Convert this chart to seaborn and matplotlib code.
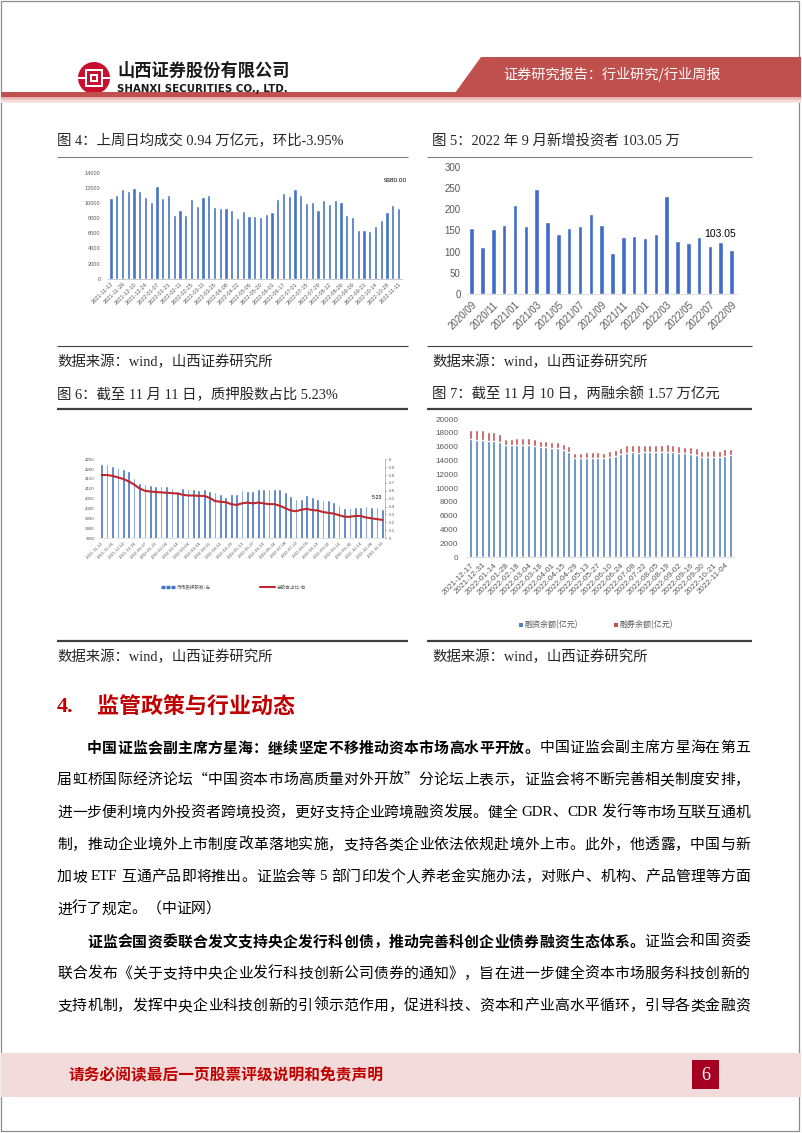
import numpy as np
import pandas as pd
import matplotlib
matplotlib.use('Agg')
import matplotlib.pyplot as plt
import seaborn as sns
from matplotlib.lines import Line2D
from matplotlib.patches import Rectangle, Polygon, Circle

# ---------------- data ----------------
turnover_labels = ['2021-11-12', '2021-11-26', '2021-12-10', '2021-12-24', '2022-01-07', '2022-01-21',
                   '2022-02-11', '2022-02-25', '2022-03-11', '2022-03-25', '2022-04-08', '2022-04-22',
                   '2022-05-06', '2022-05-20', '2022-06-03', '2022-06-17', '2022-07-01', '2022-07-15',
                   '2022-07-29', '2022-08-12', '2022-08-26', '2022-09-09', '2022-09-23', '2022-10-14',
                   '2022-10-28', '2022-11-11']
turnover = [10650, 11090, 11800, 11620, 12010, 11620, 10820, 10120, 12280, 10690,
            11000, 8450, 9110, 8400, 10560, 9640, 10780, 11090, 9460, 9280,
            9330, 9060, 7960, 8890, 8270, 8320, 8100, 8490, 8760, 10470,
            11260, 10910, 11880, 11000, 10030, 10160, 9020, 10340, 9860, 10430,
            10080, 8450, 8100, 6380, 6470, 6290, 6910, 7700, 8800, 9720, 9380]

investor_labels = ['2020/09', '2020/11', '2021/01', '2021/03', '2021/05', '2021/07', '2021/09',
                   '2021/11', '2022/01', '2022/03', '2022/05', '2022/07', '2022/09']
new_investors = [155, 112, 153, 162, 210, 161, 248, 169, 141, 156, 161, 188, 162,
                 98, 134, 137, 133, 141, 231, 126, 120, 134, 113, 124, 103.05]

pledge_labels = ['2021-11-12', '2021-11-26', '2021-12-10', '2021-12-24', '2022-01-07', '2022-01-21',
                 '2022-02-04', '2022-02-18', '2022-03-04', '2022-03-18', '2022-04-01', '2022-04-15',
                 '2022-04-29', '2022-05-13', '2022-05-27', '2022-06-10', '2022-06-24', '2022-07-08',
                 '2022-07-22', '2022-08-05', '2022-08-19', '2022-09-02', '2022-09-16', '2022-09-30',
                 '2022-10-14', '2022-10-28', '2022-11-11']
pledge_shares = [4225, 4225, 4218, 4208, 4200, 4190, 4154, 4129, 4124, 4119,
                 4116, 4112, 4112, 4104, 4090, 4105, 4099, 4099, 4095, 4097,
                 4087, 4082, 4072, 4060, 4074, 4074, 4095, 4090, 4087, 4100,
                 4097, 4100, 4100, 4098, 4082, 4062, 4050, 4050, 4068, 4057,
                 4048, 4042, 4045, 4033, 4020, 4000, 4000, 4010, 4010, 4014,
                 4010, 4006, 3996]
pledge_ratio = [5.80, 5.80, 5.79, 5.77, 5.75, 5.72, 5.68, 5.63, 5.60, 5.59,
                5.585, 5.58, 5.575, 5.57, 5.565, 5.55, 5.54, 5.54, 5.535, 5.535,
                5.51, 5.47, 5.46, 5.455, 5.43, 5.42, 5.44, 5.45, 5.44, 5.45,
                5.44, 5.43, 5.43, 5.41, 5.38, 5.35, 5.34, 5.36, 5.37, 5.355,
                5.35, 5.33, 5.32, 5.31, 5.29, 5.27, 5.27, 5.28, 5.28, 5.26,
                5.25, 5.24, 5.23]

margin_labels = ['2021-12-17', '2021-12-31', '2022-01-14', '2022-01-28', '2022-02-18', '2022-03-04',
                 '2022-03-18', '2022-04-01', '2022-04-15', '2022-04-29', '2022-05-13', '2022-05-27',
                 '2022-06-10', '2022-06-24', '2022-07-08', '2022-07-22', '2022-08-05', '2022-08-19',
                 '2022-09-02', '2022-09-16', '2022-09-30', '2022-10-21', '2022-11-04']
margin_fin = [17090, 16990, 16940, 16890, 16890, 16700, 16210, 16260, 16310, 16310,
              16310, 16165, 15970, 15920, 15825, 15825, 15580, 15240, 14320, 14320,
              14420, 14370, 14370, 14320, 14515, 14710, 14900, 15150, 15190, 15150,
              15290, 15290, 15240, 15290, 15290, 15240, 15100, 15050, 15000, 14810,
              14470, 14515, 14515, 14515, 14710, 14760]
margin_sec = [1310, 1360, 1410, 1265, 1265, 1160, 925, 875, 925, 970,
              925, 970, 875, 925, 875, 875, 825, 825, 825, 825,
              870, 825, 825, 780, 825, 875, 920, 1020, 1070, 1020,
              1020, 1020, 970, 1020, 1070, 1070, 1020, 970, 970, 970,
              870, 920, 970, 920, 970, 970]

para1 = ['中国证监会副主席方星海：继续坚定不移推动资本市场高水平开放。中国证监会副主席方星海在第五',
         '届虹桥国际经济论坛“中国资本市场高质量对外开放”分论坛上表示，证监会将不断完善相关制度安排，',
         '进一步便利境内外投资者跨境投资，更好支持企业跨境融资发展。健全 GDR、CDR 发行等市场互联互通机',
         '制，推动企业境外上市制度改革落地实施，支持各类企业依法依规赴境外上市。此外，他透露，中国与新',
         '加坡 ETF 互通产品即将推出。证监会等 5 部门印发个人养老金实施办法，对账户、机构、产品管理等方面',
         '进行了规定。（中证网）']
para2 = ['证监会国资委联合发文支持央企发行科创债，推动完善科创企业债券融资生态体系。证监会和国资委',
         '联合发布《关于支持中央企业发行科技创新公司债券的通知》，旨在进一步健全资本市场服务科技创新的',
         '支持机制，发挥中央企业科技创新的引领示范作用，促进科技、资本和产业高水平循环，引导各类金融资']

# ---------------- setup ----------------
sns.set_style('white')
plt.rcParams['font.family'] = ['Liberation Sans', 'Noto Sans CJK SC', 'DejaVu Sans']
plt.rcParams['axes.unicode_minus'] = False

W, H = 802, 1133
fig = plt.figure(figsize=(W / 100, H / 100), dpi=100)
fig.patch.set_facecolor('white')
renderer = fig.canvas.get_renderer()

CJK = 'Noto Sans CJK SC'
SERIF = 'Liberation Serif'
MIX = [SERIF, CJK]


def fx(x):
    return x / W


def fy(y):
    return 1 - y / H


def ax_px(x0, y0, x1, y1):
    a = fig.add_axes([x0 / W, 1 - y1 / H, (x1 - x0) / W, (y1 - y0) / H])
    a.patch.set_alpha(0)
    return a


def hline(x0, x1, y, lw=0.8, color='#808080'):
    fig.add_artist(Line2D([fx(x0), fx(x1)], [fy(y), fy(y)], transform=fig.transFigure,
                          lw=lw, color=color, solid_capstyle='butt'))


def rect(x0, y0, x1, y1, color, **kw):
    fig.add_artist(Rectangle((fx(x0), fy(y1)), (x1 - x0) / W, (y1 - y0) / H,
                             transform=fig.transFigure, fc=color, ec='none', **kw))


def is_cjk(ch):
    return ord(ch) > 0x2E80 or ch in '“”‘’'


def tokens(s):
    toks, buf = [], ''
    for ch in s:
        if is_cjk(ch) or ch == ' ':
            if buf:
                toks.append(buf)
                buf = ''
            toks.append(ch)
        else:
            buf += ch
    if buf:
        toks.append(buf)
    return toks


def para_line(s, x0, x1, y, size, nbold=0, justify=True, color='black'):
    toks = tokens(s)
    em = size / 72 * 100
    items = []
    idx = 0
    for t in toks:
        bold = idx < nbold
        idx += len(t)
        if t == ' ':
            items.append((None, 0.25 * em))
            continue
        fam = CJK if is_cjk(t[0]) else SERIF
        a = fig.text(0, fy(y), t, fontsize=size, family=fam,
                     weight='bold' if bold else 'normal', va='center', ha='left', color=color)
        w = a.get_window_extent(renderer).width
        items.append((a, w))
    total = sum(w for _, w in items)
    gap = (x1 - x0 - total) / (len(items) - 1) if (justify and len(items) > 1) else 0.0
    x = x0
    for a, w in items:
        if a is not None:
            a.set_x(fx(x))
        x += w + gap


# ---------------- page frame / header / footer ----------------
fig.add_artist(Rectangle((fx(1), fy(1131)), 798 / W, 1130 / H, transform=fig.transFigure,
                         fill=False, ec='#8C8C8C', lw=0.9))

RED_H = '#C0504D'
fig.add_artist(Polygon([(fx(481), fy(57)), (fx(801), fy(57)), (fx(801), fy(93)), (fx(455), fy(93))],
                       closed=True, transform=fig.transFigure, fc=RED_H, ec='none'))
rect(1, 92.5, 801, 97, RED_H)
for k, c in enumerate(['#E8B4B2', '#EFC8C6', '#F4DAD9', '#F9ECEB']):
    rect(1, 97 + k * 1.6, 801, 98.6 + k * 1.6, c)
fig.text(fx(612), fy(75), '证券研究报告：行业研究/行业周报', fontsize=10.2, family=CJK,
         color='white', ha='center', va='center')

# logo
lax = ax_px(78, 62, 110, 94)
lax.set_xlim(-1, 1)
lax.set_ylim(-1, 1)
lax.set_aspect('equal')
lax.axis('off')
lax.add_patch(Circle((0, 0), 1.0, fc='#C8102E', ec='none'))
lax.add_patch(Rectangle((-1.05, -0.07), 2.1, 0.14, fc='white', ec='none'))
lax.add_patch(Rectangle((-0.58, -0.58), 1.16, 1.16, fc='white', ec='none'))
lax.add_patch(Rectangle((-0.44, -0.44), 0.88, 0.88, fc='#C8102E', ec='none'))
lax.add_patch(Rectangle((-0.22, -0.22), 0.44, 0.44, fc='white', ec='none'))
lax.add_patch(Rectangle((-0.1, -0.1), 0.2, 0.2, fc='#C8102E', ec='none'))

fig.text(fx(117), fy(71), '山西证券股份有限公司', fontsize=12.4, family=CJK, weight='bold',
         color='#1A1A1A', ha='left', va='center')
fig.text(fx(117), fy(88.5), 'SHANXI SECURITIES CO., LTD.', fontsize=7.4, family='Liberation Sans Narrow',
         weight='bold', color='#1A1A1A', ha='left', va='center')

# footer
rect(1, 1053, 801, 1097, '#F2DCDB')
fig.text(fx(68), fy(1075), '请务必阅读最后一页股票评级说明和免责声明', fontsize=11.3, family=CJK,
         weight='bold', color='#C00000', ha='left', va='center', style='italic')
rect(692, 1060, 719, 1089, '#A50021')
fig.text(fx(705.5), fy(1075), '6', fontsize=13, family=SERIF, color='white', ha='center', va='center')

# ---------------- captions & rules ----------------
CAP = 10.4
fig.text(fx(57), fy(141), '图 4：上周日均成交 0.94 万亿元，环比-3.95%', fontsize=CAP, family=MIX,
         ha='left', va='center')
fig.text(fx(432), fy(141), '图 5：2022 年 9 月新增投资者 103.05 万', fontsize=CAP, family=MIX,
         ha='left', va='center')
fig.text(fx(57), fy(362), '数据来源：wind，山西证券研究所', fontsize=CAP, family=MIX, ha='left', va='center')
fig.text(fx(432), fy(362), '数据来源：wind，山西证券研究所', fontsize=CAP, family=MIX, ha='left', va='center')
fig.text(fx(57), fy(394), '图 6：截至 11 月 11 日，质押股数占比 5.23%', fontsize=CAP, family=MIX,
         ha='left', va='center')
fig.text(fx(432), fy(394), '图 7：截至 11 月 10 日，两融余额 1.57 万亿元', fontsize=CAP, family=MIX,
         ha='left', va='center')
fig.text(fx(57), fy(657), '数据来源：wind，山西证券研究所', fontsize=CAP, family=MIX, ha='left', va='center')
fig.text(fx(432), fy(657), '数据来源：wind，山西证券研究所', fontsize=CAP, family=MIX, ha='left', va='center')

for (a, b) in [(57, 408), (427, 752)]:
    hline(a, b, 157, lw=0.8, color='#7F7F7F')
    hline(a, b, 346, lw=0.8, color='#404040')
    hline(a, b, 409, lw=1.6, color='#404040')
    hline(a, b, 641, lw=1.6, color='#404040')

GRAY = '#595959'

# ---------------- chart 4 ----------------
ax4 = ax_px(107.6, 172.7, 402, 278.7)
df4 = pd.DataFrame({'i': np.arange(len(turnover)), 'v': turnover})
sns.barplot(data=df4, x='i', y='v', color='#4472C4', saturation=1, width=0.56, errorbar=None, ax=ax4)
ax4.set_ylim(0, 14000)
ax4.set_xlim(-0.6, len(turnover) - 0.4)
ax4.set_yticks(np.arange(0, 14001, 2000))
ax4.set_yticklabels([str(v) for v in range(0, 14001, 2000)], fontsize=4.1, color=GRAY)
ax4.set_xticks(np.arange(0, len(turnover), 2))
ax4.set_xticklabels(turnover_labels, rotation=45, ha='right', rotation_mode='anchor', fontsize=4.1, color=GRAY)
ax4.tick_params(axis='y', length=0, pad=5)
ax4.tick_params(axis='x', length=0, pad=2)
for s in ['top', 'right', 'left']:
    ax4.spines[s].set_visible(False)
ax4.spines['bottom'].set_color('#BFBFBF')
ax4.spines['bottom'].set_linewidth(0.6)
ax4.set_xlabel('')
ax4.set_ylabel('')
ax4.text(len(turnover) - 1.5, 13000, '9380.00', fontsize=4.6, ha='center', va='center', color='black')

# ---------------- chart 5 ----------------
ax5 = ax_px(466.3, 166.7, 737, 294.3)
df5 = pd.DataFrame({'i': np.arange(len(new_investors)), 'v': new_investors})
sns.barplot(data=df5, x='i', y='v', color='#3F6BCA', saturation=1, width=0.42, errorbar=None, ax=ax5)
ax5.set_ylim(0, 300)
ax5.set_xlim(-0.5, len(new_investors) - 0.5)
ax5.set_yticks(np.arange(0, 301, 50))
ax5.set_yticklabels([str(v) for v in range(0, 301, 50)], fontsize=7, color=GRAY)
ax5.set_xticks(np.arange(0, len(new_investors), 2))
ax5.set_xticklabels(investor_labels, rotation=45, ha='right', rotation_mode='anchor', fontsize=7, color=GRAY)
ax5.set_xticks(np.arange(-0.5, len(new_investors), 1), minor=True)
ax5.tick_params(axis='y', length=0, pad=4)
ax5.tick_params(axis='x', which='major', length=0, pad=4)
ax5.tick_params(axis='x', which='minor', length=2.5, color='#E6C8CF', width=0.6)
for s in ['top', 'right', 'left']:
    ax5.spines[s].set_visible(False)
ax5.spines['bottom'].set_color('#D9D9D9')
ax5.spines['bottom'].set_linewidth(0.6)
ax5.set_xlabel('')
ax5.set_ylabel('')
ax5.text(22.9, 141, '103.05', fontsize=7.5, ha='center', va='center', color='black')

# ---------------- chart 6 ----------------
ax6 = ax_px(99, 459.3, 385, 538)
n6 = len(pledge_shares)
df6 = pd.DataFrame({'i': np.arange(n6), 'v': pledge_shares})
sns.barplot(data=df6, x='i', y='v', color='#4472C4', saturation=1, width=0.5, errorbar=None, ax=ax6)
ax6.set_ylim(3850, 4250)
ax6.set_yticks(np.arange(3850, 4251, 50))
ax6.set_yticklabels([str(v) for v in range(3850, 4251, 50)], fontsize=3.2, color=GRAY)
ax6b = ax6.twinx()
df6b = pd.DataFrame({'i': np.arange(n6), 'r': pledge_ratio})
sns.lineplot(data=df6b, x='i', y='r', color='#C0272D', lw=1.5, ax=ax6b)
ax6b.set_ylim(5, 6)
rt = np.round(np.arange(5, 6.001, 0.1), 1)
ax6b.set_yticks(rt)
ax6b.set_yticklabels(['5' if v == 5 else ('6' if v == 6 else f'{v:.1f}') for v in rt], fontsize=3.2, color=GRAY)
ax6.set_xlim(-0.5, n6 - 0.5)
ax6.set_xticks(np.arange(0, n6, 2))
ax6.set_xticklabels(pledge_labels, rotation=45, ha='right', rotation_mode='anchor', fontsize=3.2, color=GRAY)
ax6.tick_params(axis='y', length=0, pad=3)
ax6.tick_params(axis='x', length=0, pad=2)
ax6b.tick_params(axis='y', length=1.5, width=0.5, color='#A6A6A6', pad=1.5, direction='out')
for a in (ax6, ax6b):
    for s in ['top', 'left']:
        a.spines[s].set_visible(False)
    a.set_xlabel('')
    a.set_ylabel('')
ax6.spines['right'].set_visible(False)
ax6b.spines['right'].set_color('#A6A6A6')
ax6b.spines['right'].set_linewidth(0.5)
ax6.spines['bottom'].set_color('#D9D9D9')
ax6.spines['bottom'].set_linewidth(0.5)
ax6b.spines['bottom'].set_visible(False)
ax6b.text(n6 - 2.0, 5.52, '5.23', fontsize=3.8, ha='center', va='center', color='black')
# legend
fig.add_artist(Line2D([fx(161), fx(175)], [fy(587), fy(587)], transform=fig.transFigure,
                      color='#4472C4', lw=2.4, ls=(0, (1.2, 0.3))))
fig.text(fx(177), fy(587), '市场质押股数-左', fontsize=3.3, family=CJK, color=GRAY, ha='left', va='center')
fig.add_artist(Line2D([fx(260), fx(275)], [fy(587), fy(587)], transform=fig.transFigure,
                      color='#C0272D', lw=1.5))
fig.text(fx(277), fy(587), '总股本占比-右', fontsize=3.3, family=CJK, color=GRAY, ha='left', va='center')

# ---------------- chart 7 ----------------
ax7 = ax_px(466.7, 419, 734.7, 557.3)
n7 = len(margin_fin)
df7 = pd.DataFrame({'i': np.arange(n7), 'fin': margin_fin, 'sec': margin_sec})
df7['total'] = df7['fin'] + df7['sec']
sns.barplot(data=df7, x='i', y='total', color='#C0504D', saturation=1, width=0.52, errorbar=None, ax=ax7)
sns.barplot(data=df7, x='i', y='fin', color='#4F81BD', saturation=1, width=0.52, errorbar=None, ax=ax7)
ax7.set_ylim(0, 20000)
ax7.set_xlim(-0.7, n7 - 0.3)
ax7.set_yticks(np.arange(0, 20001, 2000))
ax7.set_yticklabels([str(v) for v in range(0, 20001, 2000)], fontsize=5.9, color=GRAY)
ax7.set_xticks(np.arange(0, n7, 2))
ax7.set_xticklabels(margin_labels, rotation=45, ha='right', rotation_mode='anchor', fontsize=5.9, color=GRAY)
ax7.set_xticks(np.arange(-0.5, n7, 1), minor=True)
ax7.tick_params(axis='y', length=0, pad=6)
ax7.tick_params(axis='x', which='major', length=0, pad=3)
ax7.tick_params(axis='x', which='minor', length=2.0, color='#D9D9D9', width=0.5)
for s in ['top', 'right', 'left']:
    ax7.spines[s].set_visible(False)
ax7.spines['bottom'].set_color('#D9D9D9')
ax7.spines['bottom'].set_linewidth(0.6)
ax7.set_xlabel('')
ax7.set_ylabel('')
rect(519, 623, 523, 627, '#4F81BD')
fig.text(fx(525), fy(625), '融资余额(亿元)', fontsize=5.8, family=CJK, color=GRAY, ha='left', va='center')
rect(614, 623, 618, 627, '#C0504D')
fig.text(fx(620), fy(625), '融券余额(亿元)', fontsize=5.8, family=CJK, color=GRAY, ha='left', va='center')

# ---------------- section title & body ----------------
fig.text(fx(57), fy(707), '4.', fontsize=16, family=SERIF, weight='bold', color='#C00000', ha='left', va='center')
fig.text(fx(97), fy(707), '监管政策与行业动态', fontsize=15.8, family=CJK, weight='bold',
         color='#C00000', ha='left', va='center')

BODY = 10.7
y0 = 748
dy = 32.25
bold_n = [30, 0, 0, 0, 0, 0]
for k, s in enumerate(para1):
    xs = 87 if k == 0 else 57
    para_line(s, xs, 750, y0 + k * dy, BODY, nbold=bold_n[k], justify=(k < len(para1) - 1))
for k, s in enumerate(para2):
    xs = 87 if k == 0 else 57
    para_line(s, xs, 750, y0 + (k + 6) * dy, BODY, nbold=(37 if k == 0 else 0), justify=True)

fig.savefig('out.png', dpi=100)
